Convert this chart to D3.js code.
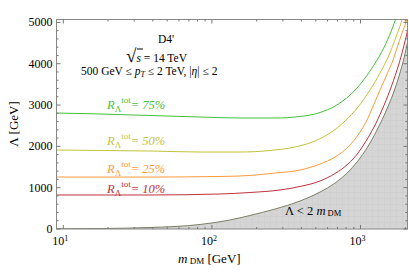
<!DOCTYPE html>
<meta charset="utf-8">
<script src="https://d3js.org/d3.v7.min.js"></script>
<style>
  body { margin: 0; background: white; }
  text { font-family: "Liberation Serif", "DejaVu Serif", serif; }
</style>
<div id="chart"></div>
<script>
  // values: [m_DM in GeV, Lambda in GeV]
  const bound = [[9.07, 5], [17.7, 12], [38.3, 36], [83.2, 109], [132, 218], [180, 327], [266, 484], [392, 678],
    [534, 895], [674, 1113], [850, 1428], [993, 1718], [1158, 2081], [1312, 2444], [1485, 2856],
    [1655, 3267], [1816, 3703], [1962, 4138], [2088, 4574]];
  const r10 = [[9.07, 823], [38.3, 823], [113, 847], [180, 883], [287, 944], [392, 1029], [534, 1162],
    [674, 1343], [824, 1573], [962, 1839], [1089, 2130], [1233, 2468], [1395, 2880], [1580, 3364],
    [1760, 3848], [1902, 4259], [2024, 4646], [2121, 4961]];
  const r25 = [[9.07, 1258], [38.3, 1258], [113, 1271], [180, 1295], [266, 1355], [392, 1428], [534, 1573],
    [674, 1742], [850, 2033], [962, 2275], [1089, 2589], [1233, 3025], [1353, 3364], [1508, 3751],
    [1655, 4090], [1760, 4380], [1902, 4743], [2024, 5009], [2088, 5203]];
  const r50 = [[9.07, 1912], [17.7, 1900], [38.3, 1888], [83.2, 1863], [154.5, 1863], [246, 1900],
    [362, 1984], [494, 2130], [623, 2323], [787, 2614], [962, 2952], [1158, 3364], [1353, 3775],
    [1556, 4211], [1733, 4646], [1873, 4985], [1962, 5227]];
  const r75 = [[9.07, 2807], [17.7, 2783], [38.3, 2747], [83.2, 2710], [154.5, 2686], [266, 2686],
    [392, 2723], [534, 2819], [674, 2977], [850, 3243], [1024, 3557], [1195, 3896], [1353, 4211],
    [1508, 4550], [1630, 4840], [1733, 5106], [1816, 5348]];
  const series = [
    { name: "10%", data: r10, color: "#c0303c", ly: 193 },
    { name: "25%", data: r25, color: "#ff9a3c", ly: 173 },
    { name: "50%", data: r50, color: "#c2c23c", ly: 145 },
    { name: "75%", data: r75, color: "#44c03a", ly: 109 }
  ];
  const yTicks = [0, 1000, 2000, 3000, 4000, 5000];
  const xMajor = [10, 100, 1000];

  const W = 409, H = 273;
  const pL = 56.5, pR = 407.5, pT = 19.5, pB = 229;

  const svg = d3.select("#chart").append("svg")
    .attr("width", W).attr("height", H);

  const x = d3.scaleLog().domain([9, 2070]).range([pL, pR]);
  const y = d3.scaleLinear().domain([0, 5070]).range([pB, pT]);

  const defs = svg.append("defs");
  defs.append("clipPath").attr("id", "clip")
    .append("rect").attr("x", pL).attr("y", pT)
    .attr("width", pR - pL).attr("height", pB - pT);
  // faint mesh texture of the shaded region
  const pat = defs.append("pattern").attr("id", "mesh")
    .attr("patternUnits", "userSpaceOnUse").attr("width", 6).attr("height", 6);
  pat.append("rect").attr("width", 6).attr("height", 6).attr("fill", "#d5d5d5");
  pat.append("path").attr("d", "M0,0.5H6M0.5,0V6").attr("stroke", "#d0d0d0").attr("stroke-width", 1);

  const plot = svg.append("g").attr("clip-path", "url(#clip)");

  // shaded excluded region
  const area = d3.area()
    .x(d => x(d[0])).y0(y(0)).y1(d => y(d[1]))
    .curve(d3.curveMonotoneX);
  plot.append("path").datum(bound.concat([[2400, 4574]]))
    .attr("d", area)
    .attr("fill", "url(#mesh)");
  const line = d3.line().x(d => x(d[0])).y(d => y(d[1])).curve(d3.curveMonotoneX);
  plot.append("path").datum(bound)
    .attr("d", line).attr("fill", "none")
    .attr("stroke", "#7d7d66").attr("stroke-width", 1);

  // curves
  plot.selectAll(".curve").data(series).join("path")
    .attr("class", "curve")
    .attr("d", d => line(d.data))
    .attr("fill", "none")
    .attr("stroke", d => d.color)
    .attr("stroke-width", 1);

  // frame
  svg.append("rect").attr("x", pL).attr("y", pT)
    .attr("width", pR - pL).attr("height", pB - pT)
    .attr("fill", "none").attr("stroke", "#888").attr("stroke-width", 1);

  // ticks (inward, on all four sides)
  const tk = svg.append("g").attr("stroke", "#777").attr("stroke-width", 1);
  const yMinor = d3.range(0, 5001, 200);
  yMinor.forEach(v => {
    const len = v % 1000 === 0 ? 4 : 2;
    tk.append("line").attr("x1", pL).attr("x2", pL + len).attr("y1", y(v)).attr("y2", y(v));
    tk.append("line").attr("x1", pR).attr("x2", pR - len).attr("y1", y(v)).attr("y2", y(v));
  });
  const xMinor = [];
  [10, 100, 1000].forEach(d => { for (let k = 1; k <= 9; k++) xMinor.push(d * k); });
  xMinor.filter(v => v <= 2070).forEach(v => {
    const len = xMajor.includes(v) ? 4 : 2;
    tk.append("line").attr("x1", x(v)).attr("x2", x(v)).attr("y1", pB).attr("y2", pB - len);
    tk.append("line").attr("x1", x(v)).attr("x2", x(v)).attr("y1", pT).attr("y2", pT + len);
  });

  // tick labels
  svg.selectAll(".ylab").data(yTicks).join("text")
    .attr("class", "ylab")
    .attr("x", pL - 4).attr("y", d => y(d) + 4)
    .attr("text-anchor", "end").attr("font-size", 12)
    .text(d => d);
  const xl = svg.selectAll(".xlab").data(xMajor).join("text")
    .attr("class", "xlab")
    .attr("x", d => x(d) - 3).attr("y", pB + 16)
    .attr("text-anchor", "middle").attr("font-size", 12);
  xl.append("tspan").text("10");
  xl.append("tspan").attr("font-size", 8).attr("dy", -4).text(d => Math.log10(d));

  // axis titles
  const xt = svg.append("text").attr("x", 178).attr("y", 263).attr("font-size", 13);
  xt.append("tspan").attr("font-style", "italic").text("m");
  xt.append("tspan").attr("font-size", 9).attr("dy", 1).text(" DM");
  xt.append("tspan").attr("dy", -1).text(" [GeV]");

  svg.append("text")
    .attr("transform", "translate(18,124) rotate(-90)")
    .attr("text-anchor", "middle").attr("font-size", 13)
    .text("Λ [GeV]");

  // annotation block
  svg.append("text").attr("x", 166).attr("y", 43).attr("text-anchor", "middle")
    .attr("font-size", 11.5).text("D4'");
  const rs = svg.append("text").attr("x", 126).attr("y", 62).attr("font-size", 11.5);
  rs.append("tspan").attr("font-size", 19).text("√");
  rs.append("tspan").attr("font-style", "italic").text("s");
  rs.append("tspan").text("  = 14 TeV");
  svg.append("line").attr("x1", 137).attr("x2", 143).attr("y1", 49).attr("y2", 49)
    .attr("stroke", "#000").attr("stroke-width", 1);
  const pt = svg.append("text").attr("x", 81).attr("y", 75).attr("font-size", 11.5);
  pt.append("tspan").text("500 GeV ≤ ");
  pt.append("tspan").attr("font-style", "italic").text("p");
  pt.append("tspan").attr("font-style", "italic").attr("font-size", 8).attr("dy", 2).text("T");
  pt.append("tspan").attr("dy", -2).text(" ≤ 2 TeV, |");
  pt.append("tspan").attr("font-style", "italic").text("η");
  pt.append("tspan").text("| ≤ 2");

  // curve labels
  const labs = svg.selectAll(".rlab").data(series).join("text")
    .attr("class", "rlab")
    .attr("x", 107).attr("y", d => d.ly)
    .attr("font-size", 12.5).attr("fill", d => d.color);
  labs.append("tspan").attr("font-style", "italic").text("R");
  labs.append("tspan").attr("font-size", 9).attr("dy", 3).text("Λ");
  labs.append("tspan").attr("font-size", 9).attr("dy", -9).text("tot");
  labs.append("tspan").attr("dy", 6).attr("font-style", "italic").text(d => "= " + d.name);

  // excluded region label
  const ex = svg.append("text").attr("x", 285).attr("y", 215).attr("font-size", 12.5);
  ex.append("tspan").text("Λ < 2 ");
  ex.append("tspan").attr("font-style", "italic").text("m");
  ex.append("tspan").attr("font-size", 8.5).attr("dy", 1).text(" DM");
</script>
